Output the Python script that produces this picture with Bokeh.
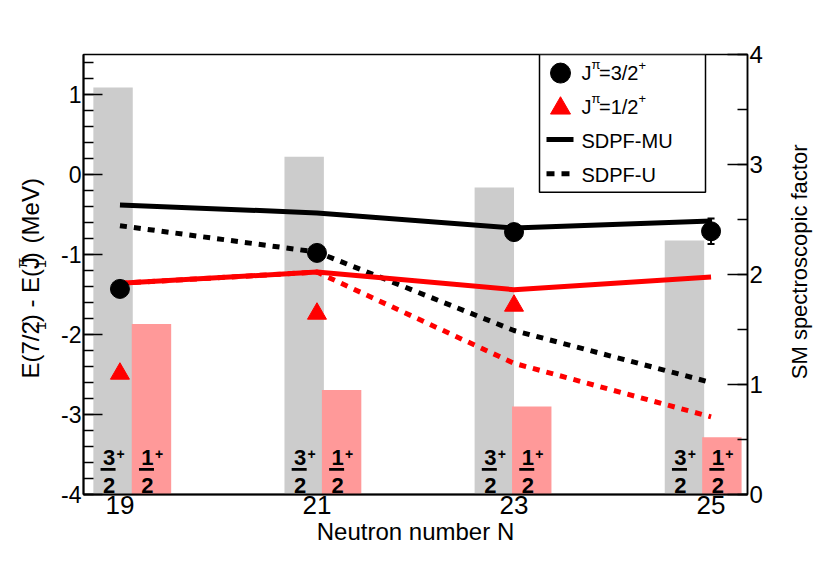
import math
from bokeh.plotting import figure
from bokeh.layouts import row
from bokeh.models import Range1d, LinearAxis, SingleIntervalTicker, FixedTicker, Label, Whisker, TeeHead, ColumnDataSource
from bokeh.core.properties import value
from bokeh.embed import file_html
from bokeh.resources import INLINE

# ---------------- data ----------------
neutrons = [19, 21, 23, 25]
tick_labels = {19: "19", 21: "21", 23: "23", 25: "25"}
y_tick_labels = {-4: "-4", -3: "-3", -2: "-2", -1: "-1", 0: "0", 1: "1"}
exp_32 = [-1.43, -0.98, -0.72, -0.71]          # J^pi = 3/2+ (experiment)
exp_32_err = [0.0, 0.0, 0.0, 0.16]
exp_12_N = [19, 21, 23]
exp_12 = [-2.49, -1.74, -1.64]                 # J^pi = 1/2+ (experiment)
sdpfmu_32 = [-0.38, -0.48, -0.67, -0.58]
sdpfmu_12 = [-1.36, -1.22, -1.44, -1.28]
sdpfu_32 = [-0.64, -0.97, -1.95, -2.60]
sdpfu_12 = [-1.36, -1.22, -2.36, -3.03]
sf_32_x = [18.93, 20.87, 22.80, 24.73]         # SM spectroscopic factor bars 3/2+
sf_32 = [3.70, 3.07, 2.79, 2.31]
sf_12_x = [19.32, 21.25, 23.18, 25.11]         # SM spectroscopic factor bars 1/2+
sf_12 = [1.55, 0.95, 0.80, 0.52]

XR = (18.63, 25.37)
YR = (-4.0, 1.5)
SFR = (0.0, 4.0)

# reference-picture frame (for placing annotations proportionally)
FL, FR, FT, FB = 83.0, 747.0, 56.0, 506.0
def X(px):
    return XR[0] + (px - FL) / (FR - FL) * (XR[1] - XR[0])
def Y(py):
    return YR[0] + (FB - py) / (FB - FT) * (YR[1] - YR[0])
DXU = (XR[1] - XR[0]) / (FR - FL)

# page layout
H = 547
LW = 52            # left title strip
RX = 772           # start of right title strip
W = 814
TOP, BOT = 54, 50
def PY(py):        # reference page y -> this page y
    return TOP + (py - FT) * (H - TOP - BOT) / (FB - FT)

FONTNAME = "Liberation Sans"
FONT = value(FONTNAME)

p = figure(width=RX - LW, height=H, x_range=Range1d(*XR), y_range=Range1d(*YR),
           output_backend="svg", toolbar_location=None,
           min_border_left=int(FL) - LW, min_border_right=RX - int(FR), min_border_top=TOP, min_border_bottom=BOT,
           background_fill_color="white", border_fill_color="white")
p.extra_y_ranges = {"sf": Range1d(*SFR)}
p.grid.visible = False
p.outline_line_color = "black"
p.outline_line_width = 1.5

# bottom axis
xa = p.xaxis[0]
xa.ticker = FixedTicker(ticks=neutrons)
xa.major_label_overrides = tick_labels
xa.major_tick_in = 0
xa.major_tick_out = 0
xa.minor_tick_in = 0
xa.minor_tick_out = 0
xa.axis_line_width = 2
xa.major_label_text_font = FONTNAME
xa.major_label_text_font_size = "26px"
xa.major_label_text_color = "black"
xa.major_label_standoff = 1
xa.axis_label = "Neutron number N"
xa.axis_label_text_font = FONTNAME
xa.axis_label_text_font_size = "24px"
xa.axis_label_text_font_style = "normal"
xa.axis_label_text_color = "black"
xa.axis_label_standoff = 1

# left axis
ya = p.yaxis[0]
ya.ticker = SingleIntervalTicker(interval=1, num_minor_ticks=5)
ya.major_label_overrides = y_tick_labels
ya.major_tick_in = 19
ya.major_tick_out = 0
ya.minor_tick_in = 10
ya.minor_tick_out = 0
ya.major_tick_line_width = 1.5
ya.minor_tick_line_width = 1.5
ya.axis_line_width = 2
ya.major_label_text_font = FONTNAME
ya.major_label_text_font_size = "23px"
ya.major_label_text_color = "black"
ya.major_label_standoff = 2

# right axis
ra = LinearAxis(y_range_name="sf", ticker=SingleIntervalTicker(interval=1, num_minor_ticks=2))
ra.major_tick_in = 20
ra.major_tick_out = 0
ra.minor_tick_in = 10
ra.minor_tick_out = 0
ra.major_tick_line_width = 1.5
ra.minor_tick_line_width = 1.5
ra.axis_line_width = 1.5
ra.major_label_text_font = FONTNAME
ra.major_label_text_font_size = "24px"
ra.major_label_text_color = "black"
ra.major_label_standoff = 2
p.add_layout(ra, "right")

# bars (spectroscopic factors)
p.vbar(x=sf_32_x, top=sf_32, bottom=0, width=0.40, y_range_name="sf",
       fill_color="#cccccc", line_color=None)
p.vbar(x=sf_12_x, top=sf_12, bottom=0, width=0.40, y_range_name="sf",
       fill_color="#ff9999", line_color=None)

# fraction labels inside the bars
n = len(neutrons)
for bx, num in ((sf_32_x, "3"), (sf_12_x, "1")):
    p.text(x=bx, y=[YR[0]] * n, text=[num] * n, x_offset=-4, y_offset=-37,
           text_font=FONT, text_font_style="bold", text_font_size="22px",
           text_align="center", text_baseline="middle", text_color="black")
    p.text(x=bx, y=[YR[0]] * n, text=["+"] * n, x_offset=7.5, y_offset=-41,
           text_font=FONT, text_font_style="bold", text_font_size="14px",
           text_align="center", text_baseline="middle", text_color="black")
    p.text(x=bx, y=[YR[0]] * n, text=["2"] * n, x_offset=-4, y_offset=-9,
           text_font=FONT, text_font_style="bold", text_font_size="22px",
           text_align="center", text_baseline="middle", text_color="black")
    p.rect(x=[b - 5 * DXU for b in bx], y=[Y(480.3)] * n, width=15, height=2.6,
           width_units="screen", height_units="screen", fill_color="black", line_color=None)

# SDPF-U (dashed) then SDPF-MU (solid)
p.line(neutrons, sdpfu_12, line_color="#ff0000", line_width=5, line_dash="7 7")
p.line(neutrons, sdpfu_32, line_color="black", line_width=5, line_dash="7 7")
p.line(neutrons, sdpfmu_12, line_color="#ff0000", line_width=5)
p.line(neutrons, sdpfmu_32, line_color="black", line_width=5)

# experimental points
p.scatter(exp_12_N, exp_12, marker="triangle", size=19, fill_color="#ff0000", line_color="#ff0000")
p.scatter(neutrons, exp_32, marker="circle", size=19, fill_color="black", line_color="black")
ex = [x for x, e in zip(neutrons, exp_32_err) if e > 0]
ey = [y for y, e in zip(exp_32, exp_32_err) if e > 0]
ee = [e for e in exp_32_err if e > 0]
esrc = ColumnDataSource(dict(x=ex, lo=[a - b for a, b in zip(ey, ee)], hi=[a + b for a, b in zip(ey, ee)]))
p.add_layout(Whisker(source=esrc, base="x", lower="lo", upper="hi", line_width=2, line_color="black",
                     lower_head=TeeHead(size=7, line_width=2), upper_head=TeeHead(size=7, line_width=2)))

# legend box
p.quad(left=[X(539)], right=[X(705)], top=[YR[1]], bottom=[Y(197)],
       fill_color="white", line_color="black", line_width=1.5)
p.scatter([X(560)], [Y(75)], marker="circle", size=20, fill_color="black", line_color="black")
p.scatter([X(560)], [Y(111)], marker="triangle", size=20, fill_color="#ff0000", line_color="#ff0000")
p.line([X(546), X(573)], [Y(143)] * 2, line_color="black", line_width=5)
p.line([X(546), X(571)], [Y(178)] * 2, line_color="black", line_width=5, line_dash="8 7")

def lab(txt, px, py, size):
    p.add_layout(Label(x=X(px), y=Y(py), text=txt, text_font=FONTNAME, text_font_size=size,
                       text_align="left", text_baseline="middle", text_color="black"))

for mid, frac in ((75, "=3/2"), (109.5, "=1/2")):
    lab("J", 581, mid, "20px")
    lab("\u03c0", 591, mid - 8.5, "13px")
    lab(frac, 598.5, mid, "20px")
    lab("+", 638, mid - 8, "13px")
lab("SDPF-MU", 581, 144.5, "20px")
lab("SDPF-U", 581, 179.5, "20px")

# ---------- side strips holding the rotated axis titles ----------
def strip(x0, x1):
    f = figure(width=x1 - x0, height=H, x_range=Range1d(x0, x1), y_range=Range1d(H, 0),
               x_axis_type=None, y_axis_type=None, output_backend="svg", toolbar_location=None,
               min_border=0, background_fill_color="white", border_fill_color="white")
    f.outline_line_color = None
    return f

R = math.pi / 2
lf = strip(0, LW)
def ltxt(f, t, x, y, size, align="left"):
    f.text(x=[x], y=[y], text=[t], angle=R, text_font=FONT, text_font_size=size,
           text_align=align, text_baseline="middle", text_color="black")

# E(7/2^-_1) - E(J^pi_1)   (MeV)
MX, SUPX, SUBX = 29.5, 22.0, 40.5
S = PY(291.5) + 117
ltxt(lf, "E(7/2", MX, S, "24px")
ltxt(lf, "\u2212", SUPX, S - 60, "15px")
ltxt(lf, "1", SUBX, S - 60, "15px")
ltxt(lf, ") - E(J", MX, S - 70, "24px")
ltxt(lf, "\u03c0", SUPX - 1.5, S - 137, "15px")
ltxt(lf, "1", SUBX, S - 137, "15px")
ltxt(lf, ")", MX, S - 147, "24px")
ltxt(lf, "(MeV)", MX, S - 168, "24px")

rf = strip(RX, W)
ltxt(rf, "SM spectroscopic factor", 799, PY(263), "22px", align="center")

layout = row(lf, p, rf)
open("out.html", "w").write(file_html(layout, INLINE))
